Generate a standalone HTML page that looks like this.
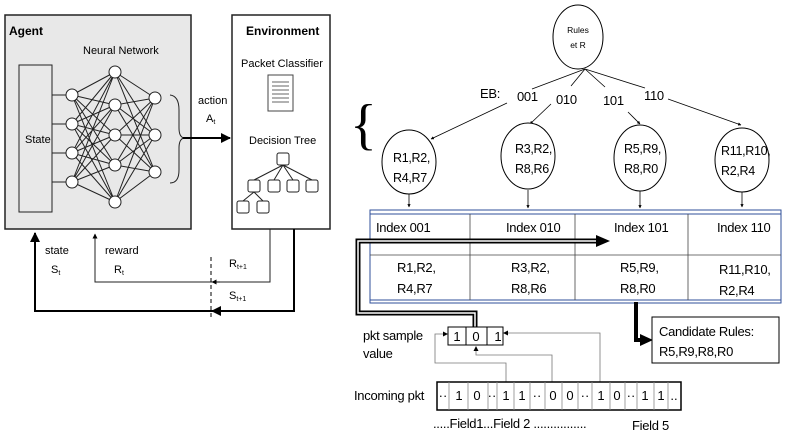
<!DOCTYPE html>
<html><head><meta charset="utf-8"><style>
html,body{margin:0;padding:0;background:#fff;}
svg{display:block;font-family:"Liberation Sans",sans-serif;}
.r{letter-spacing:-0.3px;}
</style></head><body>
<svg width="789" height="440" viewBox="0 0 789 440" xmlns="http://www.w3.org/2000/svg">
<defs>
<marker id="a" viewBox="0 0 10 10" refX="9" refY="5" markerWidth="5" markerHeight="5" orient="auto"><path d="M0,0L10,5L0,10z" fill="#000"/></marker>
<marker id="ab" viewBox="0 0 10 10" refX="9" refY="5" markerWidth="4" markerHeight="4" orient="auto"><path d="M0,0L10,5L0,10z" fill="#000"/></marker>
</defs>
<!-- Agent -->
<rect x="5" y="15" width="186" height="214" fill="#e8e8e8" stroke="#222" stroke-width="1.5"/>
<text x="9" y="35" font-size="12" font-weight="bold">Agent</text>
<text x="83" y="54" font-size="11">Neural Network</text>
<rect x="19" y="65" width="33" height="147" fill="#e8e8e8" stroke="#222"/>
<text x="25" y="143" font-size="11">State</text>
<g stroke="#222" stroke-width="1">
<line x1="52" y1="95" x2="66" y2="95"/><line x1="52" y1="124" x2="66" y2="124"/><line x1="52" y1="153" x2="66" y2="153"/><line x1="52" y1="182" x2="66" y2="182"/>
<path d="M72,95L115,72M72,95L115,105M72,95L115,135M72,95L115,165M72,95L115,202M72,124L115,72M72,124L115,105M72,124L115,135M72,124L115,165M72,124L115,202M72,153L115,72M72,153L115,105M72,153L115,135M72,153L115,165M72,153L115,202M72,182L115,72M72,182L115,105M72,182L115,135M72,182L115,165M72,182L115,202"/>
<path d="M115,72L155,98M115,72L155,135M115,72L155,172M115,105L155,98M115,105L155,135M115,105L155,172M115,135L155,98M115,135L155,135M115,135L155,172M115,165L155,98M115,165L155,135M115,165L155,172M115,202L155,98M115,202L155,135M115,202L155,172"/>
</g>
<g fill="#fff" stroke="#222">
<circle cx="72" cy="95" r="6"/><circle cx="72" cy="124" r="6"/><circle cx="72" cy="153" r="6"/><circle cx="72" cy="182" r="6"/>
<circle cx="115" cy="72" r="6"/><circle cx="115" cy="105" r="6"/><circle cx="115" cy="135" r="6"/><circle cx="115" cy="165" r="6"/><circle cx="115" cy="202" r="6"/>
<circle cx="155" cy="98" r="6"/><circle cx="155" cy="135" r="6"/><circle cx="155" cy="172" r="6"/>
</g>
<path d="M170,95Q179,96 179,110L179,128Q179,137 184,138Q179,139 179,148L179,170Q179,183 170,183" fill="none" stroke="#222"/>
<line x1="183" y1="138" x2="230" y2="138" stroke="#000" stroke-width="2" marker-end="url(#a)"/>
<text x="198" y="104" font-size="11">action</text>
<text x="206" y="122" font-size="11">A<tspan font-size="7" dy="2">t</tspan></text>
<!-- Environment -->
<rect x="232" y="15" width="98" height="214" fill="#fff" stroke="#222" stroke-width="1.5"/>
<text x="246" y="35" font-size="12" font-weight="bold">Environment</text>
<text x="241" y="67" font-size="11">Packet Classifier</text>
<rect x="268" y="75" width="25" height="36" fill="#fff" stroke="#444"/>
<g stroke="#666"><line x1="272" y1="82" x2="289" y2="82"/><line x1="272" y1="86" x2="289" y2="86"/><line x1="272" y1="90" x2="289" y2="90"/><line x1="272" y1="94" x2="289" y2="94"/><line x1="272" y1="98" x2="289" y2="98"/><line x1="272" y1="102" x2="289" y2="102"/></g>
<text x="249" y="144" font-size="11">Decision Tree</text>
<g stroke="#222" fill="none">
<path d="M283,165L254,180M283,165L274,180M283,165L293,180M283,165L312,180M254,192L243,201M254,192L263,201"/>
<g fill="#fff"><rect x="277" y="153" width="12" height="12" rx="2"/><rect x="248" y="180" width="12" height="12" rx="2"/><rect x="268" y="180" width="12" height="12" rx="2"/><rect x="287" y="180" width="12" height="12" rx="2"/><rect x="306" y="180" width="12" height="12" rx="2"/><rect x="237" y="201" width="12" height="12" rx="2"/><rect x="257" y="201" width="12" height="12" rx="2"/></g>
</g>
<!-- feedback -->
<polyline points="270,229 270,282 95,282 95,234" fill="none" stroke="#222" stroke-width="1" marker-end="url(#a)"/>
<polyline points="294,229 294,311 35,311 35,233" fill="none" stroke="#000" stroke-width="2" marker-end="url(#a)"/>
<line x1="220" y1="282" x2="212" y2="282" stroke="#000" marker-end="url(#a)"/>
<line x1="222" y1="311" x2="212" y2="311" stroke="#000" stroke-width="2" marker-end="url(#a)"/>
<line x1="211" y1="257" x2="211" y2="320" stroke="#000" stroke-dasharray="4,3"/>
<text x="45" y="254" font-size="11">state</text>
<text x="51" y="273" font-size="11">S<tspan font-size="7" dy="2">t</tspan></text>
<text x="105" y="254" font-size="11">reward</text>
<text x="114" y="273" font-size="11">R<tspan font-size="7" dy="2">t</tspan></text>
<text x="229" y="267" font-size="11">R<tspan font-size="7" dy="2">t+1</tspan></text>
<text x="229" y="299" font-size="11">S<tspan font-size="7" dy="2">t+1</tspan></text>
<!-- Right diagram -->
<ellipse cx="578" cy="37" rx="25" ry="32" fill="#fff" stroke="#000"/>
<text x="578" y="33" font-size="8.5" text-anchor="middle">Rules</text>
<text x="578" y="48" font-size="8.5" text-anchor="middle">et R</text>
<g stroke="#000" stroke-width="0.8" fill="none">
<line x1="585" y1="69" x2="532" y2="89"/><line x1="585" y1="69" x2="571" y2="86"/><line x1="585" y1="69" x2="605" y2="87"/><line x1="585" y1="69" x2="645" y2="88"/>
<line x1="507" y1="103" x2="431" y2="139" marker-end="url(#ab)"/>
<line x1="551" y1="104" x2="530" y2="124" marker-end="url(#ab)"/>
<line x1="628" y1="112" x2="640" y2="124" marker-end="url(#ab)"/>
<line x1="668" y1="99" x2="741" y2="125" marker-end="url(#ab)"/>
</g>
<g class="r">
<text x="480" y="98" font-size="13">EB:</text>
<text x="517" y="101" font-size="13">001</text>
<text x="556" y="104" font-size="13">010</text>
<text x="603" y="105" font-size="13">101</text>
<text x="644" y="100" font-size="13">110</text>
</g>
<text x="350" y="143" font-size="56" font-family="Liberation Serif,serif">{</text>
<g fill="#fff" stroke="#000">
<ellipse cx="409" cy="162" rx="27" ry="32"/><ellipse cx="528" cy="156" rx="27" ry="33"/><ellipse cx="640" cy="158" rx="26" ry="33"/><ellipse cx="742" cy="160" rx="27" ry="32"/>
</g>
<g font-size="12.5" class="r">
<text x="393" y="162">R1,R2,</text><text x="393" y="182">R4,R7</text>
<text x="515" y="153">R3,R2,</text><text x="515" y="173">R8,R6</text>
<text x="624" y="153">R5,R9,</text><text x="624" y="173">R8,R0</text>
<text x="721" y="155">R11,R10,</text><text x="721" y="175">R2,R4</text>
</g>
<g stroke="#000" stroke-width="0.8">
<line x1="409" y1="194" x2="409" y2="207" marker-end="url(#ab)"/><line x1="528" y1="190" x2="528" y2="208" marker-end="url(#ab)"/><line x1="640" y1="191" x2="640" y2="208" marker-end="url(#ab)"/><line x1="742" y1="192" x2="742" y2="207" marker-end="url(#ab)"/>
</g>
<!-- table -->
<rect x="370" y="210" width="411" height="93" fill="none" stroke="#2f4f9a"/>
<line x1="370" y1="214" x2="781" y2="214" stroke="#2f4f9a"/>
<line x1="370" y1="300" x2="781" y2="300" stroke="#2f4f9a"/>
<g stroke="#444" stroke-width="0.8">
<line x1="470" y1="214" x2="470" y2="300"/><line x1="575" y1="214" x2="575" y2="300"/><line x1="688" y1="214" x2="688" y2="300"/>
<line x1="370" y1="255" x2="781" y2="255"/>
</g>
<g font-size="13" class="r">
<text x="376" y="232">Index 001</text><text x="506" y="232">Index 010</text><text x="614" y="232">Index 101</text><text x="717" y="232">Index 110</text>
<text x="397" y="272">R1,R2,</text><text x="397" y="293">R4,R7</text>
<text x="511" y="272">R3,R2,</text><text x="511" y="293">R8,R6</text>
<text x="620" y="272">R5,R9,</text><text x="620" y="293">R8,R0</text>
<text x="719" y="274">R11,R10,</text><text x="719" y="295">R2,R4</text>
</g>
<!-- thick double arrow -->
<polyline points="475,327 475,313 358,313 358,241 598,241" fill="none" stroke="#000" stroke-width="5"/>
<polyline points="475,327 475,313 358,313 358,241 598,241" fill="none" stroke="#fff" stroke-width="1.5"/>
<path d="M596,235L610,241L596,247z" fill="#000"/>
<polyline points="636,302 636,340 642,340" fill="none" stroke="#000" stroke-width="4"/>
<path d="M640,334L653,340L640,346z" fill="#000"/>
<rect x="652" y="317" width="127" height="46" fill="#fff" stroke="#000"/>
<g class="r">
<text x="659" y="336" font-size="13">Candidate Rules:</text>
<text x="659" y="356" font-size="13">R5,R9,R8,R0</text>
</g>
<!-- pkt sample -->
<rect x="448" y="327" width="55" height="18" fill="#fff" stroke="#000"/>
<line x1="466" y1="327" x2="466" y2="345" stroke="#000"/><line x1="487" y1="327" x2="487" y2="345" stroke="#000"/>
<text x="457" y="341" font-size="13" text-anchor="middle">1</text>
<text x="476" y="341" font-size="13" text-anchor="middle">0</text>
<text x="498" y="341" font-size="13" text-anchor="middle">1</text>
<g class="r">
<text x="363" y="340" font-size="13">pkt sample</text>
<text x="363" y="358" font-size="13">value</text>
</g>
<g stroke="#777" stroke-width="0.8" fill="none">
<polyline points="506,382 506,363 435,363 435,334 445,334"/>
<polyline points="552,382 552,355 476,355 476,349"/>
<polyline points="600,382 600,333 506,333"/>
</g>
<path d="M448,334L443,331.5L443,336.5z" fill="#000"/>
<path d="M476,346L473.5,351L478.5,351z" fill="#000"/>
<path d="M503,333L508,330.5L508,335.5z" fill="#000"/>
<!-- incoming pkt -->
<rect x="437" y="382" width="244" height="28" fill="#fff" stroke="#000" stroke-width="1.5"/>
<g stroke="#888" stroke-width="0.8">
<line x1="449" y1="382" x2="449" y2="410"/><line x1="468" y1="382" x2="468" y2="410"/><line x1="488" y1="382" x2="488" y2="410"/><line x1="497" y1="382" x2="497" y2="410"/><line x1="514" y1="382" x2="514" y2="410"/><line x1="530" y1="382" x2="530" y2="410"/><line x1="545" y1="382" x2="545" y2="410"/><line x1="562" y1="382" x2="562" y2="410"/><line x1="578" y1="382" x2="578" y2="410"/><line x1="592" y1="382" x2="592" y2="410"/><line x1="610" y1="382" x2="610" y2="410"/><line x1="625" y1="382" x2="625" y2="410"/><line x1="637" y1="382" x2="637" y2="410"/><line x1="654" y1="382" x2="654" y2="410"/><line x1="668" y1="382" x2="668" y2="410"/>
</g>
<g font-size="13" text-anchor="middle">
<text x="443" y="400">··</text><text x="459" y="400">1</text><text x="477" y="400">0</text><text x="492" y="400">··</text><text x="506" y="400">1</text><text x="522" y="400">1</text><text x="537" y="400">··</text><text x="553" y="400">0</text><text x="570" y="400">0</text><text x="585" y="400">··</text><text x="601" y="400">1</text><text x="617" y="400">0</text><text x="631" y="400">··</text><text x="645" y="400">1</text><text x="661" y="400">1</text><text x="674" y="400">..</text>
</g>
<g class="r">
<text x="354" y="400" font-size="13">Incoming pkt</text>
<text x="433" y="428" font-size="13">.....Field1...Field 2 ................</text>
<text x="632" y="430" font-size="13">Field 5</text>
</g>
</svg>
</body></html>
